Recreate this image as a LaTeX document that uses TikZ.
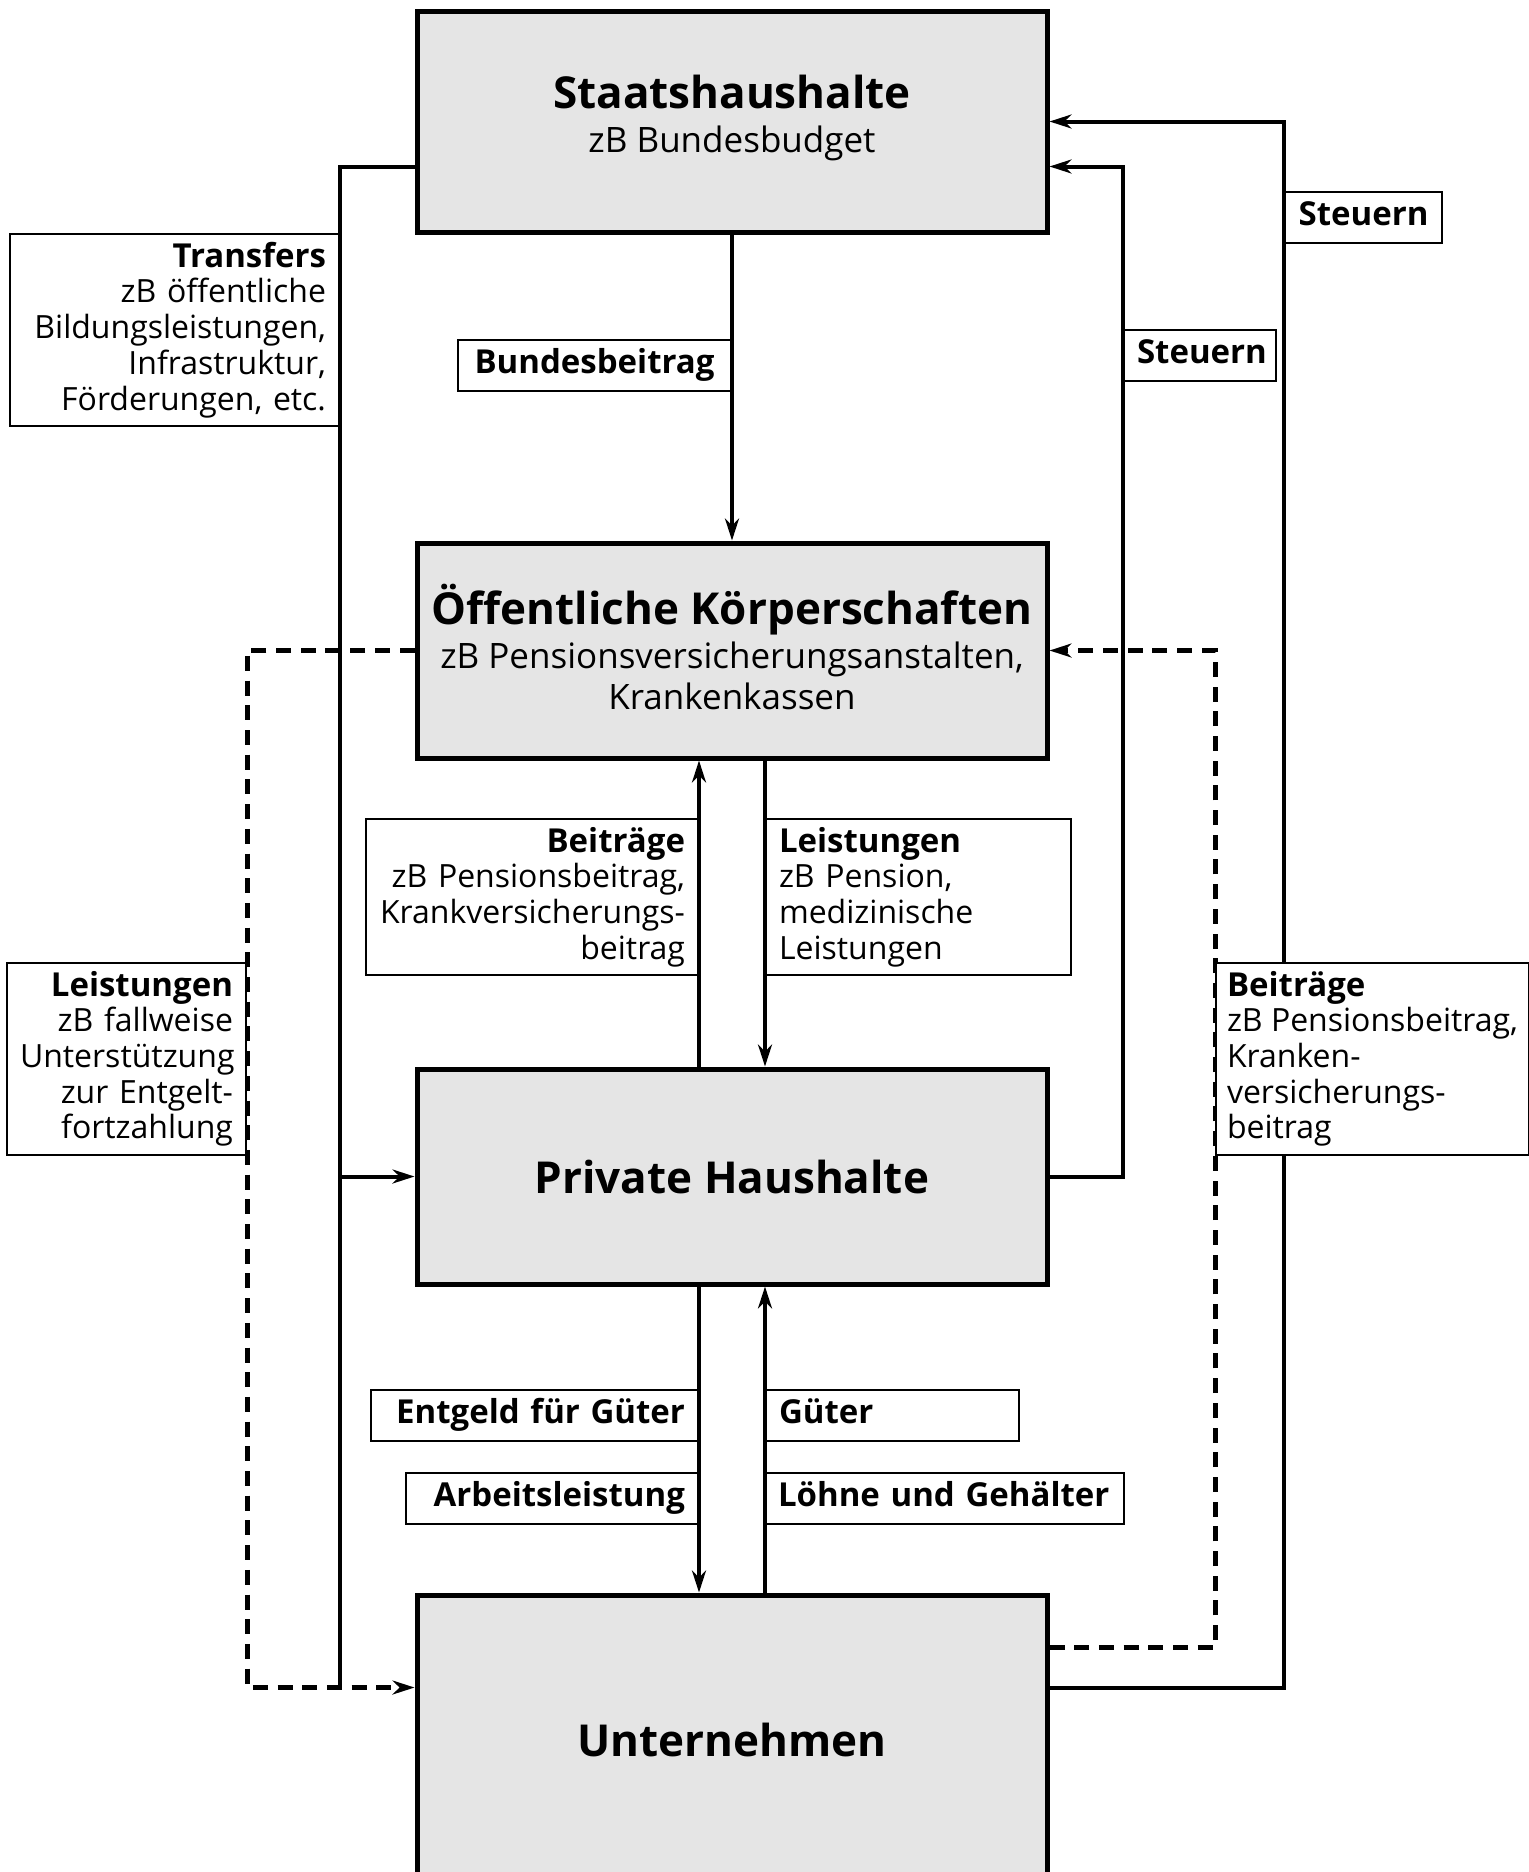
\documentclass[tikz,border=0pt]{standalone}
\usepackage{fontspec}
\setmainfont{Open Sans}
\usetikzlibrary{positioning, arrows.meta}
\definecolor{boxfill}{RGB}{229,229,229}
\newcommand{\sectorhead}[1]{{\fontsize{44}{50}\selectfont\bfseries #1}}
\newcommand{\taghead}[1]{{\fontsize{33}{35.7}\selectfont\bfseries #1}}
\lefthyphenmin=64

\begin{document}
\begin{tikzpicture}[
    x=1pt, y=-1pt,
    node distance=306pt,
    sector/.style={
        draw,
        line width=5pt,
        fill=boxfill,
        minimum width=630pt,
        minimum height=215pt,
        align=center,
        font=\fontsize{35}{41}\selectfont
    },
    tag/.style={
        draw,
        line width=2pt,
        fill=white,
        inner xsep=13pt,
        inner ysep=8pt,
        font=\fontsize{32}{35.7}\selectfont
    },
    onetag/.style={
        tag,
        minimum height=51pt,
        text height=24pt,
        text depth=8pt
    },
    line/.style={line width=4pt},
    flow/.style={line, -{Stealth[length=22pt, width=14pt]}},
    dashflow/.style={flow, line width=5pt, dash pattern=on 15pt off 9.7pt}
    ]
    \useasboundingbox (0,0) rectangle (1529,1872);
    \clip (0,0) rectangle (1529,1872);

    % Sectors
    \node[sector, minimum height=221pt, text depth=14.5pt] (staat) at (732,121.5)
        {\sectorhead{Staatshaushalte}\\[3pt] zB Bundesbudget};
    \node[sector, text depth=6.4pt, below=of staat] (oeff)
        {\sectorhead{Öffentliche Körperschaften}\\[3pt] zB Pensionsversicherungsanstalten,\\ Krankenkassen};
    \node[sector, below=of oeff] (priv) {\sectorhead{Private Haushalte}};
    \node[sector, minimum height=282pt, text height=41pt, below=of priv] (unt) {\sectorhead{Unternehmen}};

    % Lanes
    \coordinate (laneA) at (247,0);
    \coordinate (laneB) at (340,0);
    \coordinate (laneC) at (1123,0);
    \coordinate (laneD) at (1215,0);
    \coordinate (laneE) at (1284,0);
    \coordinate (staatin) at ([yshift=-45pt]staat.east);
    \coordinate (firmin) at ([yshift=-95pt]unt.north west);

    % Labels
    \node[tag, anchor=north east, text width=303pt, align=right] (transfers) at (340,233)
        {\taghead{Transfers}\\ zB öffentliche\\ Bildungsleistungen,\\ Infrastruktur,\\ Förderungen, etc.};
    \node[onetag, anchor=north east, text width=247pt, align=center] (bund) at (732,339)
        {\taghead{Bundesbeitrag}};
    \node[onetag, anchor=north west, text width=131pt, align=center] (steuerout) at (1284,191)
        {\taghead{Steuern}};
    \node[onetag, anchor=north west, text width=126pt, align=center] (steuerin) at (1123,329)
        {\taghead{Steuern}};
    \node[tag, anchor=north east, text width=213pt, align=right] (leistfirm) at (247,962)
        {\taghead{Leistungen}\\ zB~fallweise\\ Unterstützung\\ zur~Entgelt-\\ fortzahlung};
    \node[tag, anchor=north east, text width=306pt, align=right] (beitpriv) at (699,818)
        {\taghead{Beiträge}\\ zB~Pensionsbeitrag,\\ Krankversicherungs-\\ beitrag};
    \node[tag, anchor=north west, text width=279pt, align=left] (leistpriv) at (765,818)
        {\taghead{Leistungen}\\ zB~Pension,\\ medizinische\\ Leistungen};
    \node[onetag, anchor=north east, text width=301pt, align=right] (entgeld) at (699,1389)
        {\taghead{Entgeld~für~Güter}};
    \node[onetag, anchor=north east, text width=266pt, align=right] (arbeit) at (699,1472)
        {\taghead{Arbeitsleistung}};
    \node[onetag, anchor=north west, text width=227pt, align=left] (gueter) at (765,1389)
        {\taghead{Güter}};
    \node[onetag, anchor=north west, inner xsep=12pt, text width=334pt, align=left] (loehne) at (765,1472)
        {\taghead{Löhne~und~Gehälter}};

    % Flows
    \draw[flow] (staat) -- (oeff);
    \draw[line] ([yshift=-45pt]staat.west) -| (laneB |- firmin);
    \draw[flow] (laneB |- priv.west) -- (priv.west);
    \draw[dashflow] (oeff.west) -| (laneA |- firmin) -- (firmin);
    \draw[flow] ([yshift=-95pt]unt.north east) -| (laneE |- staat.east) -- (staat.east);
    \draw[flow] (priv.east) -| (laneC |- staatin) -- (staatin);
    \draw[dashflow] ([yshift=-55pt]unt.north east) -| (laneD |- oeff.east) -- (oeff.east);
    \draw[flow] ([xshift=-33pt]priv.north) -- ([xshift=-33pt]oeff.south);
    \draw[flow] ([xshift=33pt]oeff.south) -- ([xshift=33pt]priv.north);
    \draw[flow] ([xshift=-33pt]priv.south) -- ([xshift=-33pt]unt.north);
    \draw[flow] ([xshift=33pt]unt.north) -- ([xshift=33pt]priv.south);

    % this one sits over the outer tax line
    \node[tag, anchor=north west, inner xsep=10pt, minimum width=313pt, align=left] (beitfirm) at (1215,962)
        {\taghead{Beiträge}\\ zB Pensionsbeitrag,\\ Kranken-\\ versicherungs-\\ beitrag};
\end{tikzpicture}
\end{document}
